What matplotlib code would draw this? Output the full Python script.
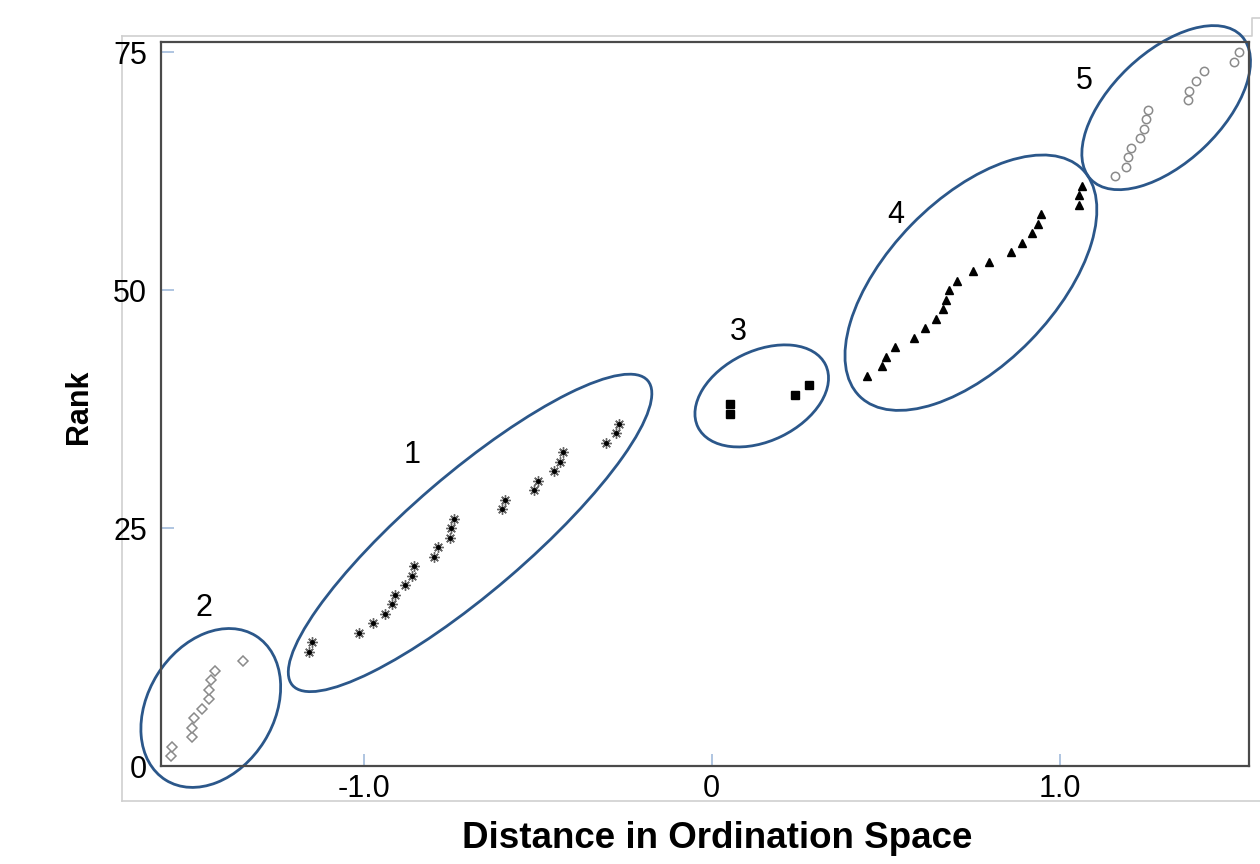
import matplotlib
matplotlib.use('Agg')
import matplotlib.pyplot as plt
from matplotlib.patches import Ellipse
from matplotlib.lines import Line2D
from matplotlib.transforms import ScaledTranslation

# Rank vs distance, five clusters
g2_rank = [1, 2, 3, 4, 5, 6, 7, 8, 9, 10, 11]
g2_x = [-1.554, -1.551, -1.494, -1.494, -1.486, -1.464, -1.445, -1.444, -1.437, -1.427, -1.346]

g1_rank = [12, 13, 14, 15, 16, 17, 18, 19, 20, 21, 22, 23, 24, 25, 26, 27, 28,
           29, 30, 31, 32, 33, 34, 35, 36]
g1_x = [-1.156, -1.149, -1.013, -0.972, -0.937, -0.919, -0.909, -0.881, -0.860,
        -0.856, -0.798, -0.786, -0.752, -0.750, -0.740, -0.602, -0.594, -0.510,
        -0.500, -0.454, -0.435, -0.427, -0.304, -0.275, -0.267]

g3_rank = [37, 38, 39, 40]
g3_x = [0.053, 0.053, 0.239, 0.280]

g4_rank = [41, 42, 43, 44, 45, 46, 47, 48, 49, 50, 51, 52, 53, 54, 55, 56, 57,
           58, 59, 60, 61]
g4_x = [0.447, 0.489, 0.500, 0.527, 0.581, 0.612, 0.645, 0.665, 0.672, 0.682,
        0.705, 0.752, 0.798, 0.861, 0.893, 0.920, 0.939, 0.947, 1.055, 1.056, 1.063]

g5_rank = [62, 63, 64, 65, 66, 67, 68, 69, 70, 71, 72, 73, 74, 75]
g5_x = [1.159, 1.191, 1.196, 1.206, 1.231, 1.243, 1.249, 1.255, 1.370, 1.372,
        1.391, 1.416, 1.501, 1.515]

# cluster labels and ellipse centres (data units)
cluster_names = ['1', '2', '3', '4', '5']
label_x = [-0.861, -1.459, 0.076, 0.530, 1.070]
label_y = [32.7, 16.6, 45.6, 57.9, 72.0]
ell_cx = [-0.694, -1.439, 0.144, 0.745, 1.306]
ell_cy = [24.5, 6.1, 38.9, 50.8, 69.2]
# semi-axes in pixels and tilt in degrees
ell_a = [234, 85, 71, 159, 104]
ell_b = [59, 63, 45, 83, 55]
ell_ang = [40.6, 58, 26, 45.7, 43.6]

xticks = [-1.0, 0.0, 1.0]
xtick_labels = ['-1.0', '0', '1.0']
yticks = [0, 25, 50, 75]
ytick_labels = ['0', '25', '50', '75']

DPI = 100
fig = plt.figure(figsize=(12.6, 8.64), dpi=DPI)
ax = fig.add_axes([161 / 1260, 1 - 766 / 864, 1088 / 1260, 724 / 864])

ax.plot(g2_x, g2_rank, 'D', ms=5.5, mfc='white', mec='#8a8a8a', mew=1.1, ls='none')
ax.plot(g1_x, g1_rank, marker=(8, 2, 0), ms=7.5, color='#666666', mew=1.0, ls='none')
ax.plot(g1_x, g1_rank, 'o', ms=2.5, color='black', ls='none')
ax.plot(g3_x, g3_rank, 's', ms=5.5, color='black', ls='none')
ax.plot(g4_x, g4_rank, '^', ms=6, color='black', ls='none')
ax.plot(g5_x, g5_rank, 'o', ms=6, mfc='white', mec='#8a8a8a', mew=1.1, ls='none')

# cluster ellipses (size fixed in pixels, centred in data coords)
for cx, cy, a, b, ang in zip(ell_cx, ell_cy, ell_a, ell_b, ell_ang):
    trans = fig.dpi_scale_trans + ScaledTranslation(cx, cy, ax.transData)
    e = Ellipse((0, 0), 2 * a / DPI, 2 * b / DPI, angle=ang, transform=trans,
                fill=False, edgecolor='#2b578a', lw=2.0, clip_on=False)
    ax.add_patch(e)

for name, tx, ty in zip(cluster_names, label_x, label_y):
    ax.text(tx, ty, name, fontsize=22, family='Liberation Sans',
            ha='center', va='center')

ax.set_xlim(-1.582, 1.544)
ax.set_ylim(0, 76.1)
ax.set_xticks(xticks)
ax.set_xticklabels(xtick_labels)
ax.set_yticks(yticks)
ax.set_yticklabels(ytick_labels)
ax.tick_params(direction='in', length=9, width=1.3, color='#a9c0de',
               labelsize=22, top=False, right=False)
ax.tick_params(axis='x', pad=6)
ax.tick_params(axis='y', pad=10)
for lab in ax.get_xticklabels() + ax.get_yticklabels():
    lab.set_family('Liberation Sans')

for sp in ax.spines.values():
    sp.set_color('#4a4a4a')
    sp.set_linewidth(1.6)

ax.set_xlabel('Distance in Ordination Space', fontsize=26.5, fontweight='bold',
              family='Liberation Sans')
ax.set_ylabel('Rank', fontsize=22, fontweight='bold', family='Liberation Sans')
ax.xaxis.label.set_va('center')
ax.yaxis.label.set_va('center')
ax.xaxis.set_label_coords((717 - 161) / 1088, (766 - 838) / 724)
ax.yaxis.set_label_coords((79 - 161) / 1088, (766 - 407) / 724)

# light outer border of the original image, kept behind the tick labels
def fig_line(xs, ys):
    fig.add_artist(Line2D([x / 1260 for x in xs], [1 - y / 864 for y in ys],
                          transform=fig.transFigure, color='#cfcfcf', lw=1.2,
                          zorder=-1))

fig_line([122, 122], [36, 801])
fig_line([122, 1252, 1252, 1260], [36, 36, 18, 18])
fig_line([122, 1260], [801, 801])

fig.savefig('out.png', dpi=DPI)
